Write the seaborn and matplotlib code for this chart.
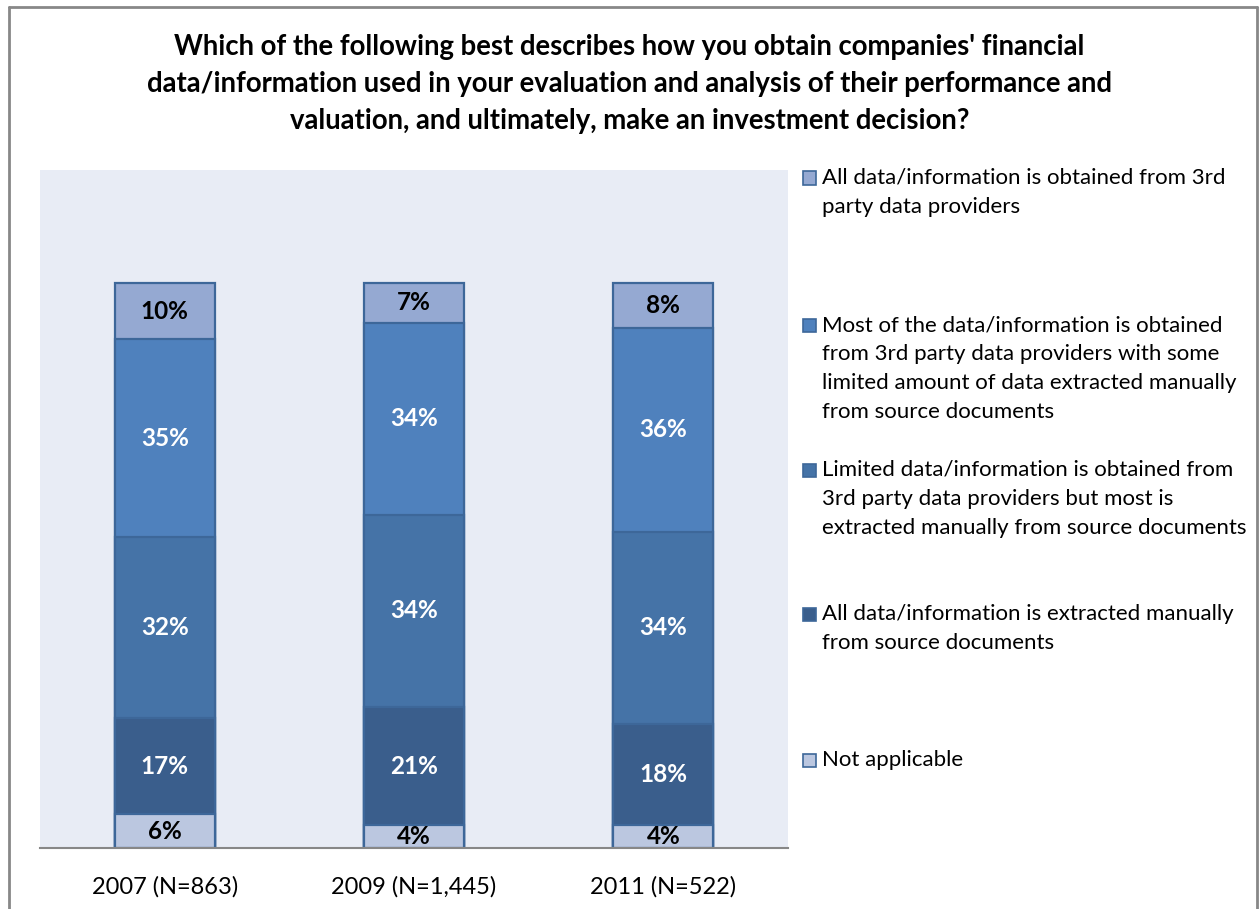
import numpy as np
import pandas as pd
import seaborn as sns
import matplotlib
matplotlib.use("Agg")
import matplotlib.pyplot as plt
from matplotlib.patches import Rectangle
from matplotlib.lines import Line2D

# ---- data -------------------------------------------------------------
years = ["2007 (N=863)", "2009 (N=1,445)", "2011 (N=522)"]

# stacking order: bottom -> top
series_names = [
    "Not applicable",
    "All data/information is extracted manually\nfrom source documents",
    "Limited data/information is obtained from\n3rd party data providers but most is\nextracted manually from source documents",
    "Most of the data/information is obtained\nfrom 3rd party data providers with some\nlimited amount of data extracted manually\nfrom source documents",
    "All data/information is obtained from 3rd\nparty data providers",
]
not_applicable = [6, 4, 4]
all_manual = [17, 21, 18]
limited_third_party = [32, 34, 34]
most_third_party = [35, 34, 36]
all_third_party = [10, 7, 8]

series_values = [not_applicable, all_manual, limited_third_party,
                 most_third_party, all_third_party]
series_colors = ["#BBC7E0", "#3A5E8C", "#4573A7", "#4F81BD", "#95A9D2"]
label_colors = ["black", "white", "white", "white", "black"]

title_lines = [
    "Which of the following best describes how you obtain companies' financial",
    "data/information used in your evaluation and analysis of their performance and",
    "valuation, and ultimately, make an investment decision?",
]

# ---- styling ----------------------------------------------------------
sns.set_style("white")
plt.rcParams["font.family"] = ["Lato", "DejaVu Sans"]

W, H = 1259, 909
fig = plt.figure(figsize=(W / 100, H / 100), dpi=100)
fig.patch.set_facecolor("white")

def fx(px):
    return px / W

def fy(py):
    return 1 - py / H

ax = fig.add_axes([fx(40), fy(848), fx(788) - fx(40), fy(170) - fy(848)])
ax.set_facecolor("#E8ECF5")

# long-form table of the stacked values
rows = []
for name, vals in zip(series_names, series_values):
    for yr, v in zip(years, vals):
        rows.append({"year": yr, "series": name, "value": v})
df = pd.DataFrame(rows)
wide = df.pivot(index="year", columns="series", values="value").loc[years, series_names]
cum = wide.cumsum(axis=1)

# draw cumulative totals from the top segment down so each layer covers the next
for i in range(len(series_names) - 1, -1, -1):
    name = series_names[i]
    sns.barplot(x=years, y=cum[name].values, color=series_colors[i],
                width=0.4, edgecolor="#3D6799", linewidth=1.6,
                saturation=1, ax=ax, order=years)

# segment value labels
for i, name in enumerate(series_names):
    bottoms = (cum[name] - wide[name]).values
    for j, yr in enumerate(years):
        v = wide[name].values[j]
        ax.text(j, bottoms[j] + v / 2, f"{v}%", ha="center", va="center",
                fontsize=17.5, fontweight="bold", color=label_colors[i])

ax.set_xlim(-0.5, 2.5)
ax.set_ylim(0, 120)
ax.set_yticks([])
ax.set_xlabel("")
ax.set_ylabel("")
ax.tick_params(axis="x", length=0, pad=20, labelsize=17, labelcolor="black")
for side in ["top", "right", "left"]:
    ax.spines[side].set_visible(False)
ax.spines["bottom"].set_color("#878787")
ax.spines["bottom"].set_linewidth(1.5)

# title
for k, line in enumerate(title_lines):
    fig.text(0.5, fy(47 + 37 * k), line, ha="center", va="center",
             fontsize=19.8, fontweight="bold", color="black")

# legend (top entry first)
legend_y = [178, 325, 470, 614, 760]
for (name, color), y0 in zip(list(zip(series_names, series_colors))[::-1], legend_y):
    fig.add_artist(Rectangle((fx(803), fy(y0 + 6.5)), fx(13), fy(0) - fy(13),
                             transform=fig.transFigure, facecolor=color,
                             edgecolor="#3D6799", linewidth=1.2))
    for k, line in enumerate(name.split("\n")):
        fig.text(fx(822), fy(y0 + 29 * k), line, ha="left", va="center",
                 fontsize=16, color="black")

# outer frame
frame_kw = dict(transform=fig.transFigure, color="#888888", linewidth=2)
fig.add_artist(Line2D([fx(9), fx(9)], [fy(7), fy(909)], **frame_kw))
fig.add_artist(Line2D([fx(9), fx(1257)], [fy(7), fy(7)], **frame_kw))
fig.add_artist(Line2D([fx(1257), fx(1257)], [fy(7), fy(909)], **frame_kw))

fig.savefig("out.png", dpi=100)
